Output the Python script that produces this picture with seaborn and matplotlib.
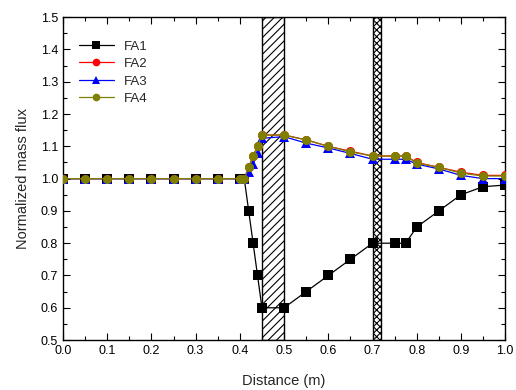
import pandas as pd
import matplotlib
matplotlib.use("Agg")
import matplotlib.pyplot as plt
from matplotlib.patches import Rectangle
from matplotlib.ticker import MultipleLocator, FormatStrFormatter
import seaborn as sns

# --------------------------- DATA ---------------------------

distance = [0.0, 0.05, 0.1, 0.15, 0.2, 0.25, 0.3, 0.35, 0.4, 0.41, 0.42, 0.43,
            0.44, 0.45, 0.5, 0.55, 0.6, 0.65, 0.7, 0.75, 0.775, 0.8, 0.85,
            0.9, 0.95, 1.0]

fa1 = [1.0, 1.0, 1.0, 1.0, 1.0, 1.0, 1.0, 1.0, 1.0, 1.0, 0.9, 0.8,
       0.7, 0.6, 0.6, 0.65, 0.7, 0.75, 0.8, 0.8, 0.8, 0.85, 0.9,
       0.95, 0.975, 0.98]
fa2 = [1.0, 1.0, 1.0, 1.0, 1.0, 1.0, 1.0, 1.0, 1.0, 1.0, 1.035, 1.07,
       1.1, 1.135, 1.135, 1.12, 1.1, 1.085, 1.07, 1.07, 1.07, 1.05, 1.035,
       1.02, 1.01, 1.01]
fa3 = [1.0, 1.0, 1.0, 1.0, 1.0, 1.0, 1.0, 1.0, 1.0, 1.0, 1.02, 1.045,
       1.08, 1.125, 1.13, 1.11, 1.095, 1.078, 1.06, 1.06, 1.06, 1.045, 1.03,
       1.01, 1.0, 1.0]
fa4 = [1.0, 1.0, 1.0, 1.0, 1.0, 1.0, 1.0, 1.0, 1.0, 1.0, 1.035, 1.07,
       1.1, 1.135, 1.135, 1.12, 1.1, 1.083, 1.07, 1.07, 1.07, 1.048, 1.035,
       1.017, 1.008, 1.008]

series_names = ["FA1", "FA2", "FA3", "FA4"]

# hatched zones (start, end, hatch)
zones = [(0.45, 0.5, "////"), (0.70, 0.72, "xxxxx")]

df = pd.concat([
    pd.DataFrame({"Distance": distance, "Flux": vals, "Series": name})
    for name, vals in zip(series_names, [fa1, fa2, fa3, fa4])
])

# --------------------------- PLOT ---------------------------

sns.set_theme(style="ticks")
plt.rcParams["font.family"] = ["Liberation Sans", "DejaVu Sans"]
plt.rcParams["hatch.linewidth"] = 0.8

palette = {"FA1": "black", "FA2": "red", "FA3": "blue", "FA4": "#808000"}
markers = {"FA1": "s", "FA2": "o", "FA3": "^", "FA4": "o"}

fig = plt.figure(figsize=(5.16, 3.9), dpi=100)
ax = fig.add_axes([0.122, 0.128, 0.857, 0.828])

for x0, x1, h in zones:
    ax.add_patch(Rectangle((x0, 0.5), x1 - x0, 1.0, fill=False, hatch=h,
                           edgecolor="black", linewidth=1.0, zorder=1))

sns.lineplot(data=df, x="Distance", y="Flux", hue="Series", style="Series",
             palette=palette, markers=markers, dashes=False, linewidth=0.9,
             markersize=6.5, markeredgewidth=0, ax=ax, zorder=3, sort=False)

ax.set_xlim(0, 1.0)
ax.set_ylim(0.5, 1.5)
ax.xaxis.set_major_locator(MultipleLocator(0.1))
ax.xaxis.set_minor_locator(MultipleLocator(0.05))
ax.yaxis.set_major_locator(MultipleLocator(0.1))
ax.yaxis.set_minor_locator(MultipleLocator(0.05))
ax.tick_params(which="both", direction="in", top=True, right=True,
               labelsize=9, width=0.8, colors="black")
ax.tick_params(which="major", length=5)
ax.tick_params(which="minor", length=3)
ax.xaxis.set_major_formatter(FormatStrFormatter("%.1f"))
ax.yaxis.set_major_formatter(FormatStrFormatter("%.1f"))
for s in ax.spines.values():
    s.set_linewidth(1.0)
    s.set_color("black")

ax.set_xlabel("Distance (m)", fontsize=10.5, labelpad=12)
ax.set_ylabel("Normalized mass flux", fontsize=10.5, labelpad=8)

leg = ax.legend(loc="upper left", bbox_to_anchor=(0.01, 0.965), frameon=False,
                fontsize=9.5, handlelength=2.6, labelspacing=0.4,
                markerscale=0.85)

plt.savefig("out.png", dpi=100)
